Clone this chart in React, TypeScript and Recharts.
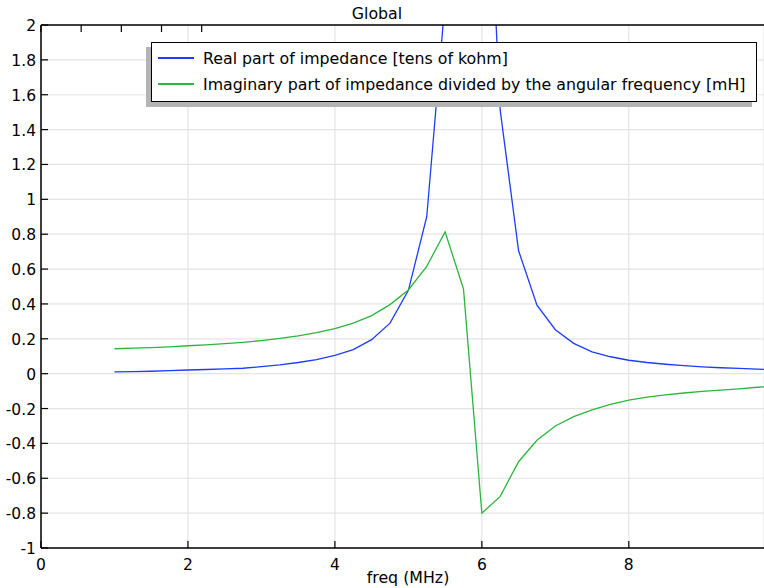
import { LineChart, Line, XAxis, YAxis, CartesianGrid, Legend } from 'recharts';

// frequency sweep (MHz)
const freqMHz = [
  1, 1.25, 1.5, 1.75, 2, 2.25, 2.5, 2.75, 3, 3.25, 3.5, 3.75, 4, 4.25, 4.5, 4.75, 5, 5.25, 5.5,
  5.75, 6, 6.25, 6.5, 6.75, 7, 7.25, 7.5, 7.75, 8, 8.25, 8.5, 8.75, 9, 9.25, 9.5, 9.75, 10,
];

// real part of impedance [tens of kohm]
const realPart = [
  0.01, 0.012, 0.014, 0.017, 0.021, 0.024, 0.027, 0.031, 0.04, 0.05, 0.064, 0.081, 0.105, 0.138,
  0.195, 0.29, 0.478, 0.9, 2.14, 5.2, 3.7, 1.51, 0.705, 0.393, 0.252, 0.174, 0.125, 0.097, 0.077,
  0.064, 0.054, 0.046, 0.039, 0.034, 0.03, 0.026, 0.022,
];

// imaginary part / angular frequency [mH]
const imagOverOmega = [
  0.143, 0.146, 0.149, 0.154, 0.16, 0.165, 0.172, 0.18, 0.19, 0.202, 0.217, 0.236, 0.259, 0.29,
  0.333, 0.396, 0.48, 0.616, 0.813, 0.486, -0.8, -0.704, -0.505, -0.382, -0.3, -0.246, -0.208,
  -0.176, -0.152, -0.135, -0.122, -0.111, -0.102, -0.094, -0.087, -0.078, -0.072,
];

const xTicks = [0, 2, 4, 6, 8];
const yTicks = [-1, -0.8, -0.6, -0.4, -0.2, 0, 0.2, 0.4, 0.6, 0.8, 1, 1.2, 1.4, 1.6, 1.8, 2];

const seriesNames = [
  'Real part of impedance [tens of kohm]',
  'Imaginary part of impedance divided by the angular frequency [mH]',
];
const seriesColors = ['#1e3cff', '#2db53c'];

const FONT = '"DejaVu Sans", Verdana, sans-serif';

const data = freqMHz.map((f, i) => ({ f, re: realPart[i], im: imagOverOmega[i] }));

const YTick = ({ y, payload }: any) => (
  <g>
    <line x1={41} x2={48} y1={y} y2={y} stroke="#000" strokeWidth={1.2} />
    <text x={36} y={y} dy={6} textAnchor="end" fontSize={15.5} fontFamily={FONT} fill="#000">
      {payload.value}
    </text>
  </g>
);

const XTick = ({ x, payload }: any) => (
  <g>
    <line x1={x} x2={x} y1={548} y2={541} stroke="#000" strokeWidth={1.2} />
    <text x={x} y={570} textAnchor="middle" fontSize={15.5} fontFamily={FONT} fill="#000">
      {payload.value}
    </text>
  </g>
);

const TopTick = ({ x }: any) => (
  <line x1={x} x2={x} y1={25} y2={32} stroke="#000" strokeWidth={1.2} />
);

const LegendBox = () => (
  <div
    style={{
      width: 604,
      height: 58,
      border: '1.5px solid #000',
      background: '#fff',
      boxShadow: '-5px 5px 0 #b4b4b4',
      fontFamily: FONT,
      fontSize: 15.8,
      color: '#000',
      boxSizing: 'content-box',
      whiteSpace: 'nowrap',
    }}
  >
    {seriesNames.map((name, i) => (
      <div key={name} style={{ display: 'flex', alignItems: 'center', height: 26, marginTop: i === 0 ? 2 : 0 }}>
        <div style={{ width: 36, height: 2, background: seriesColors[i], marginLeft: 6, marginRight: 9 }} />
        <span>{name}</span>
      </div>
    ))}
  </div>
);

export default function App() {
  return (
    <div style={{ position: 'absolute', left: 0, top: 0, width: 764, height: 588, background: '#fff' }}>
      <LineChart width={764} height={588} data={data} margin={{ top: 24, right: 0, bottom: 0, left: 0 }}>
        <CartesianGrid stroke="#e4e4e4" strokeWidth={1.2} />
        <XAxis
          dataKey="f"
          type="number"
          domain={[0, 9.84]}
          allowDataOverflow
          ticks={xTicks}
          height={40}
          axisLine={{ stroke: '#000', strokeWidth: 1.5 }}
          tickLine={false}
          tick={<XTick />}
          label={() => (
            <text x={408} y={583} textAnchor="middle" fontSize={15.8} fontFamily={FONT} fill="#000">
              freq (MHz)
            </text>
          )}
        />
        <XAxis
          xAxisId="top"
          orientation="top"
          type="number"
          domain={[0, 9.84]}
          allowDataOverflow
          ticks={xTicks}
          height={1}
          axisLine={{ stroke: '#000', strokeWidth: 1.5 }}
          tickLine={false}
          tick={<TopTick />}
          label={() => (
            <text x={377} y={19} textAnchor="middle" fontSize={15.8} fontFamily={FONT} fill="#000">
              Global
            </text>
          )}
        />
        <YAxis
          type="number"
          domain={[-1, 2]}
          allowDataOverflow
          ticks={yTicks}
          width={41}
          axisLine={{ stroke: '#000', strokeWidth: 1.5 }}
          tickLine={false}
          tick={<YTick />}
        />
        <Legend
          layout="horizontal"
          verticalAlign="middle"
          align="center"
          content={<LegendBox />}
          wrapperStyle={{ left: 151, top: 42, width: 'auto' }}
        />
        <Line
          type="linear"
          dataKey="re"
          name={seriesNames[0]}
          stroke={seriesColors[0]}
          strokeWidth={1.3}
          dot={false}
          isAnimationActive={false}
        />
        <Line
          type="linear"
          dataKey="im"
          name={seriesNames[1]}
          stroke={seriesColors[1]}
          strokeWidth={1.3}
          dot={false}
          isAnimationActive={false}
        />
      </LineChart>
    </div>
  );
}
